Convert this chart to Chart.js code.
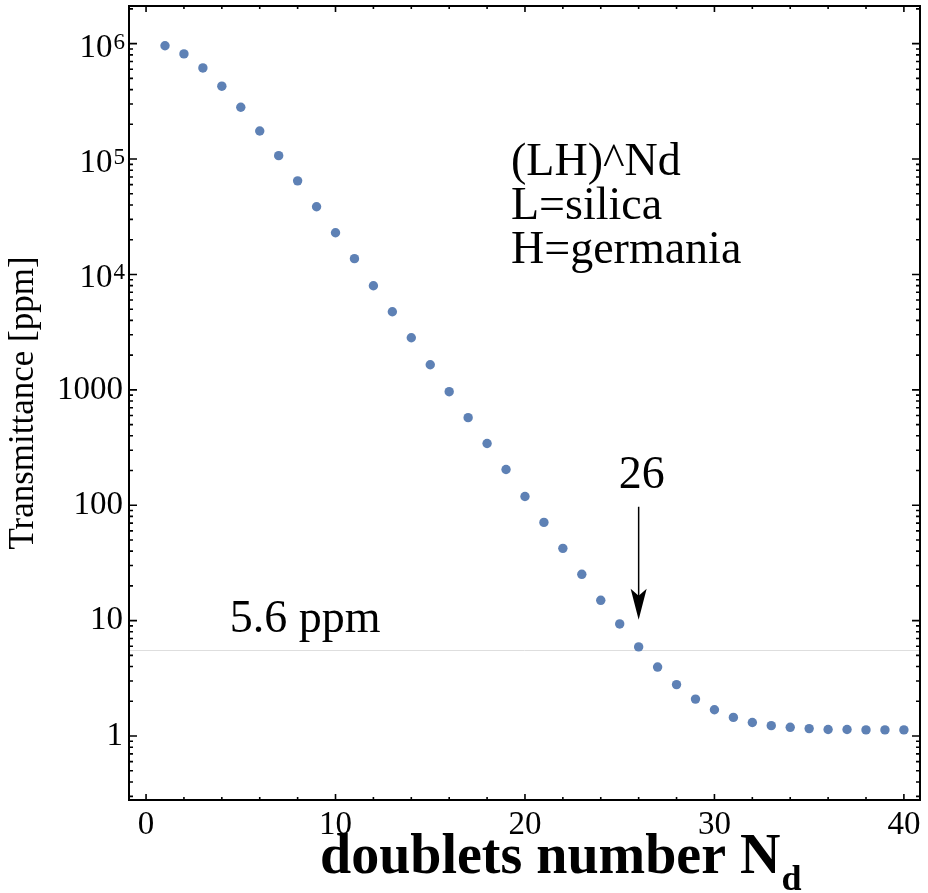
<!DOCTYPE html>
<html><head><meta charset="utf-8">
<script src="https://cdn.jsdelivr.net/npm/chart.js@4.4.1/dist/chart.umd.min.js"></script>
<style>html,body{margin:0;padding:0;background:#fff;}canvas{display:block;}</style>
</head><body>
<canvas id="c" width="928" height="893"></canvas>
<script>
// ---- data ----
const doublets = [1,2,3,4,5,6,7,8,9,10,11,12,13,14,15,16,17,18,19,20,21,22,23,24,25,26,27,28,29,30,31,32,33,34,35,36,37,38,39,40];
const transmittance = [9.6e5,8.15e5,6.16e5,4.28e5,2.81e5,1.75e5,1.07e5,6.47e4,3.86e4,2.30e4,
  1.37e4,7.98e3,4.75e3,2.83e3,1.65e3,964,574,343,204,119,
  71,42.3,25.2,15.0,9.36,5.92,3.96,2.79,2.09,1.69,
  1.45,1.31,1.23,1.19,1.16,1.14,1.14,1.13,1.13,1.13];
const xTickValues = [0,10,20,30,40];
const xMinorStep = 2;
const yTickValues = [1,10,100,1000,1e4,1e5,1e6];
const yTickBase = ['1','10','100','1000','10','10','10'];
const yTickExp  = ['','','','','4','5','6'];
const thresholdLevel = 5.6;
const thresholdLabel = '5.6 ppm';
const markedDoublet = 26;
const arrowFrom = 97, arrowTo = 10.2;
const noteLines = ['(LH)^Nd','L=silica','H=germania'];
const xTitleMain = 'doublets number N', xTitleSub = 'd';
const yTitle = 'Transmittance [ppm]';

const SERIF = '"Liberation Serif","DejaVu Serif",serif';

const decor = {
  id:'decor',
  beforeDatasetsDraw(chart){
    const {ctx, chartArea:a, scales:{y}} = chart;
    const py = y.getPixelForValue(thresholdLevel);
    ctx.save();
    ctx.strokeStyle='#dedede'; ctx.lineWidth=1;
    ctx.beginPath(); ctx.moveTo(a.left, Math.round(py)+0.5); ctx.lineTo(a.right, Math.round(py)+0.5); ctx.stroke();
    ctx.restore();
  },
  afterDraw(chart){
    const {ctx, chartArea:a, scales:{x,y}} = chart;
    ctx.save();
    // frame
    ctx.strokeStyle='#000'; ctx.lineWidth=2;
    ctx.strokeRect(a.left, a.top, a.right-a.left, a.bottom-a.top);
    // x ticks (inside, bottom and top)
    ctx.lineWidth=1.6;
    for(let v=xTickValues[0]; v<=xTickValues[xTickValues.length-1]; v+=xMinorStep){
      const px=x.getPixelForValue(v);
      const major = xTickValues.includes(v);
      const len = major?6:3;
      ctx.beginPath();
      ctx.moveTo(px,a.bottom); ctx.lineTo(px,a.bottom-len);
      ctx.moveTo(px,a.top); ctx.lineTo(px,a.top+len);
      ctx.stroke();
    }
    // y ticks (inside, left and right)
    for(let e=-1;e<=6;e++){
      for(let m=1;m<=9;m++){
        const v=m*Math.pow(10,e);
        if(v<y.min||v>y.max) continue;
        const py=y.getPixelForValue(v);
        const len = m===1?8:4;
        ctx.beginPath();
        ctx.moveTo(a.left,py); ctx.lineTo(a.left+len,py);
        ctx.moveTo(a.right,py); ctx.lineTo(a.right-len,py);
        ctx.stroke();
      }
    }
    // y tick labels (with superscripts)
    ctx.fillStyle='#000';
    yTickValues.forEach((v,i)=>{
      const py=y.getPixelForValue(v);
      if(yTickExp[i]){
        ctx.font='23px '+SERIF; ctx.textAlign='left'; ctx.textBaseline='alphabetic';
        const we=ctx.measureText(yTickExp[i]).width;
        const right=125;
        ctx.fillText(yTickExp[i], right-we, py+5);
        ctx.font='33px '+SERIF; ctx.textAlign='right';
        ctx.fillText(yTickBase[i], right-we-1, py+13);
      } else {
        ctx.font='33px '+SERIF; ctx.textAlign='right'; ctx.textBaseline='middle';
        ctx.fillText(yTickBase[i], 123, py);
      }
    });
    ctx.textBaseline='alphabetic';
    // threshold label
    ctx.font='46px '+SERIF;
    ctx.textAlign='center';
    ctx.fillText(thresholdLabel, x.getPixelForValue(8.4), y.getPixelForValue(thresholdLevel)-18);
    // arrow
    const ax=x.getPixelForValue(markedDoublet);
    const y0=y.getPixelForValue(arrowFrom), y1=y.getPixelForValue(arrowTo);
    ctx.lineWidth=1.5;
    ctx.beginPath(); ctx.moveTo(ax,y0); ctx.lineTo(ax,y1-20); ctx.stroke();
    ctx.beginPath(); ctx.moveTo(ax,y1); ctx.lineTo(ax-8,y1-31); ctx.lineTo(ax,y1-24); ctx.lineTo(ax+8,y1-31); ctx.closePath(); ctx.fill();
    ctx.fillText(String(markedDoublet), ax+3, y0-19);
    // notes
    ctx.textAlign='left';
    noteLines.forEach((t,i)=>ctx.fillText(t, 511, 175+i*44));
    // x title with subscript
    ctx.font='bold 56px '+SERIF;
    const w1=ctx.measureText(xTitleMain).width;
    const sx=320;
    ctx.fillText(xTitleMain, sx, 873);
    ctx.font='bold 36px '+SERIF;
    ctx.fillText(xTitleSub, sx+w1+1, 890);
    ctx.restore();
  }
};

new Chart(document.getElementById('c'), {
  type:'scatter',
  data:{datasets:[{
    data: doublets.map((d,i)=>({x:d, y:transmittance[i]})),
    backgroundColor:'#5e81b5', borderWidth:0, pointRadius:4.7, pointHoverRadius:4.7
  }]},
  options:{
    responsive:false, animation:false, events:[],
    layout:{padding:{left:0,right:8,top:6,bottom:0}},
    plugins:{legend:{display:false}, tooltip:{enabled:false}},
    scales:{
      x:{type:'linear', min:-0.9, max:40.85,
        grid:{display:false, drawTicks:false}, border:{display:false},
        ticks:{color:'#000', font:{family:SERIF, size:33}, padding:6, maxRotation:0, autoSkip:false},
        afterBuildTicks:s=>{s.ticks=xTickValues.map(v=>({value:v}));},
        afterFit:s=>{s.height=93; s.paddingLeft=0; s.paddingRight=0;}
      },
      y:{type:'logarithmic', min:0.279, max:2.12e6,
        grid:{display:false, drawTicks:false}, border:{display:false},
        ticks:{display:false},
        afterBuildTicks:s=>{s.ticks=yTickValues.map(v=>({value:v}));},
        afterFit:s=>{s.width=129; s.paddingTop=0; s.paddingBottom=0;},
        title:{display:true, text:yTitle, color:'#000', font:{family:SERIF, size:35}, padding:{top:3,bottom:0}}
      }
    }
  },
  plugins:[decor]
});
</script>
</body></html>
